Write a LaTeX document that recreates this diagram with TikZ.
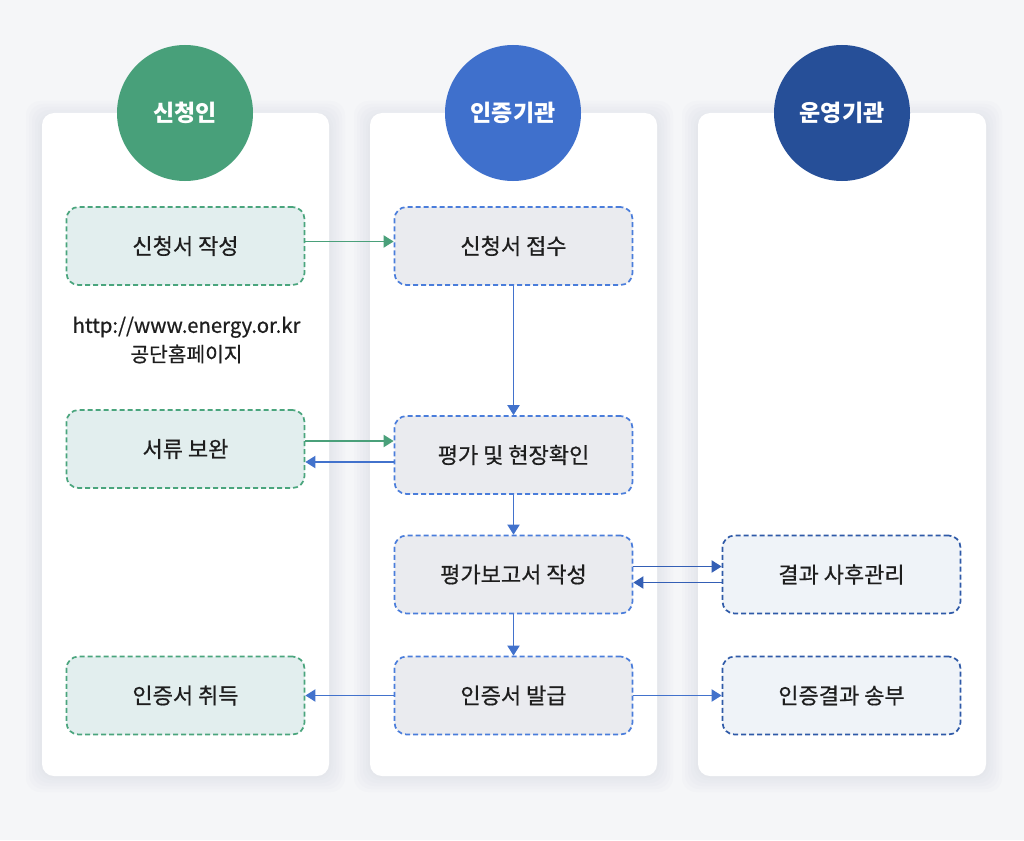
\documentclass[tikz,border=0pt]{standalone}
\usepackage{fontspec}
\setmainfont{Noto Sans CJK KR}
\newfontfamily\medfont[FakeBold=0.6]{Noto Sans CJK KR}
\usetikzlibrary{arrows.meta,calc}
\definecolor{bg}{HTML}{F5F6F8}
\definecolor{shadowc}{HTML}{C8CDD6}
\definecolor{cgreen}{HTML}{48A07A}
\definecolor{cblue}{HTML}{3F70CC}
\definecolor{cdark}{HTML}{264F98}
\definecolor{lfill}{HTML}{E2EEEE}
\definecolor{lline}{HTML}{4AA57D}
\definecolor{mfill}{HTML}{EAEBEF}
\definecolor{mline}{HTML}{4A7DDB}
\definecolor{rfill}{HTML}{EFF3F8}
\definecolor{rline}{HTML}{2F5AA8}
\definecolor{agreen}{HTML}{4AA07A}
\definecolor{ablue}{HTML}{4272CC}
\definecolor{adark}{HTML}{345FB5}
\definecolor{txt}{HTML}{1E1E1E}
\begin{document}
\begin{tikzpicture}[x=1pt,y=-1pt,
  col/.style={fill=white, rounded corners=12pt},
  head/.style={circle, minimum size=136pt, inner sep=0pt, text=white, font=\fontsize{23}{27}\selectfont\bfseries},
  stepbox/.style={rectangle, rounded corners=12pt, minimum width=238pt, minimum height=78pt, dash pattern=on 5pt off 3pt, line width=1.7pt, font=\medfont\fontsize{22}{26}\selectfont, text=txt},
  lbox/.style={stepbox, fill=lfill, draw=lline},
  mbox/.style={stepbox, fill=mfill, draw=mline},
  rbox/.style={stepbox, fill=rfill, draw=rline},
  conn/.style={line width=1.9pt, -{Triangle[length=10pt,width=12pt]}},
  garr/.style={conn, draw=agreen, fill=agreen},
  barr/.style={conn, draw=ablue, fill=ablue},
  darr/.style={conn, draw=adark, fill=adark}
]
\fill[bg] (0,0) rectangle (1024,840);
\useasboundingbox (0,0) rectangle (1024,840);
% column shadows
\foreach \xa/\xb in {42/329, 370/657, 698/986}{
  \foreach \s in {16,13,10,7,4,2}{
    \fill[shadowc, opacity=0.06, rounded corners=14pt] (\xa-\s,113-\s+4) rectangle (\xb+\s,776+\s);
  }
  \fill[col] (\xa,113) rectangle (\xb,776);
}
% headers
\node[head, fill=cgreen] (h1) at (185,113) {신청인};
\node[head, fill=cblue] (h2) at (513,113) {인증기관};
\node[head, fill=cdark] (h3) at (842,113) {운영기관};
% boxes
\node[lbox] (a1) at (185.5,246) {신청서 작성};
\node[lbox] (a2) at (185.5,449) {서류 보완};
\node[lbox] (a3) at (185.5,695.5) {인증서 취득};
\node[align=center, text=txt, font=\medfont\fontsize{20.3}{29}\selectfont] (url) at (186.5,340) {http://www.energy.or.kr\\공단홈페이지};
\node[mbox] (m1) at (513.5,246) {신청서 접수};
\node[mbox] (m2) at (513.5,455) {평가 및 현장확인};
\node[mbox] (m3) at (513.5,574.5) {평가보고서 작성};
\node[mbox] (m4) at (513.5,695.5) {인증서 발급};
\node[rbox] (r1) at (841.5,574.5) {결과 사후관리};
\node[rbox] (r2) at (841.5,695.5) {인증결과 송부};
% connectors
\coordinate (p1) at ($(a1.east)+(0,-4.5)$);
\draw[garr] (p1) -- (p1 -| m1.west);
\coordinate (p2) at ($(a2.east)+(0,-8)$);
\draw[garr] (p2) -- (p2 -| m2.west);
\coordinate (p3) at ($(m2.west)+(0,7)$);
\draw[barr] (p3) -- (p3 -| a2.east);
\draw[barr] (m1.south) -- (m2.north);
\draw[barr] (m2.south) -- (m3.north);
\draw[barr] (m3.south) -- (m4.north);
\coordinate (p4) at ($(m3.east)+(0,-8)$);
\draw[darr] (p4) -- (p4 -| r1.west);
\coordinate (p5) at ($(r1.west)+(0,8)$);
\draw[darr] (p5) -- (p5 -| m3.east);
\draw[barr] (m4.west) -- (a3.east);
\draw[barr] (m4.east) -- (r2.west);
\end{tikzpicture}
\end{document}
